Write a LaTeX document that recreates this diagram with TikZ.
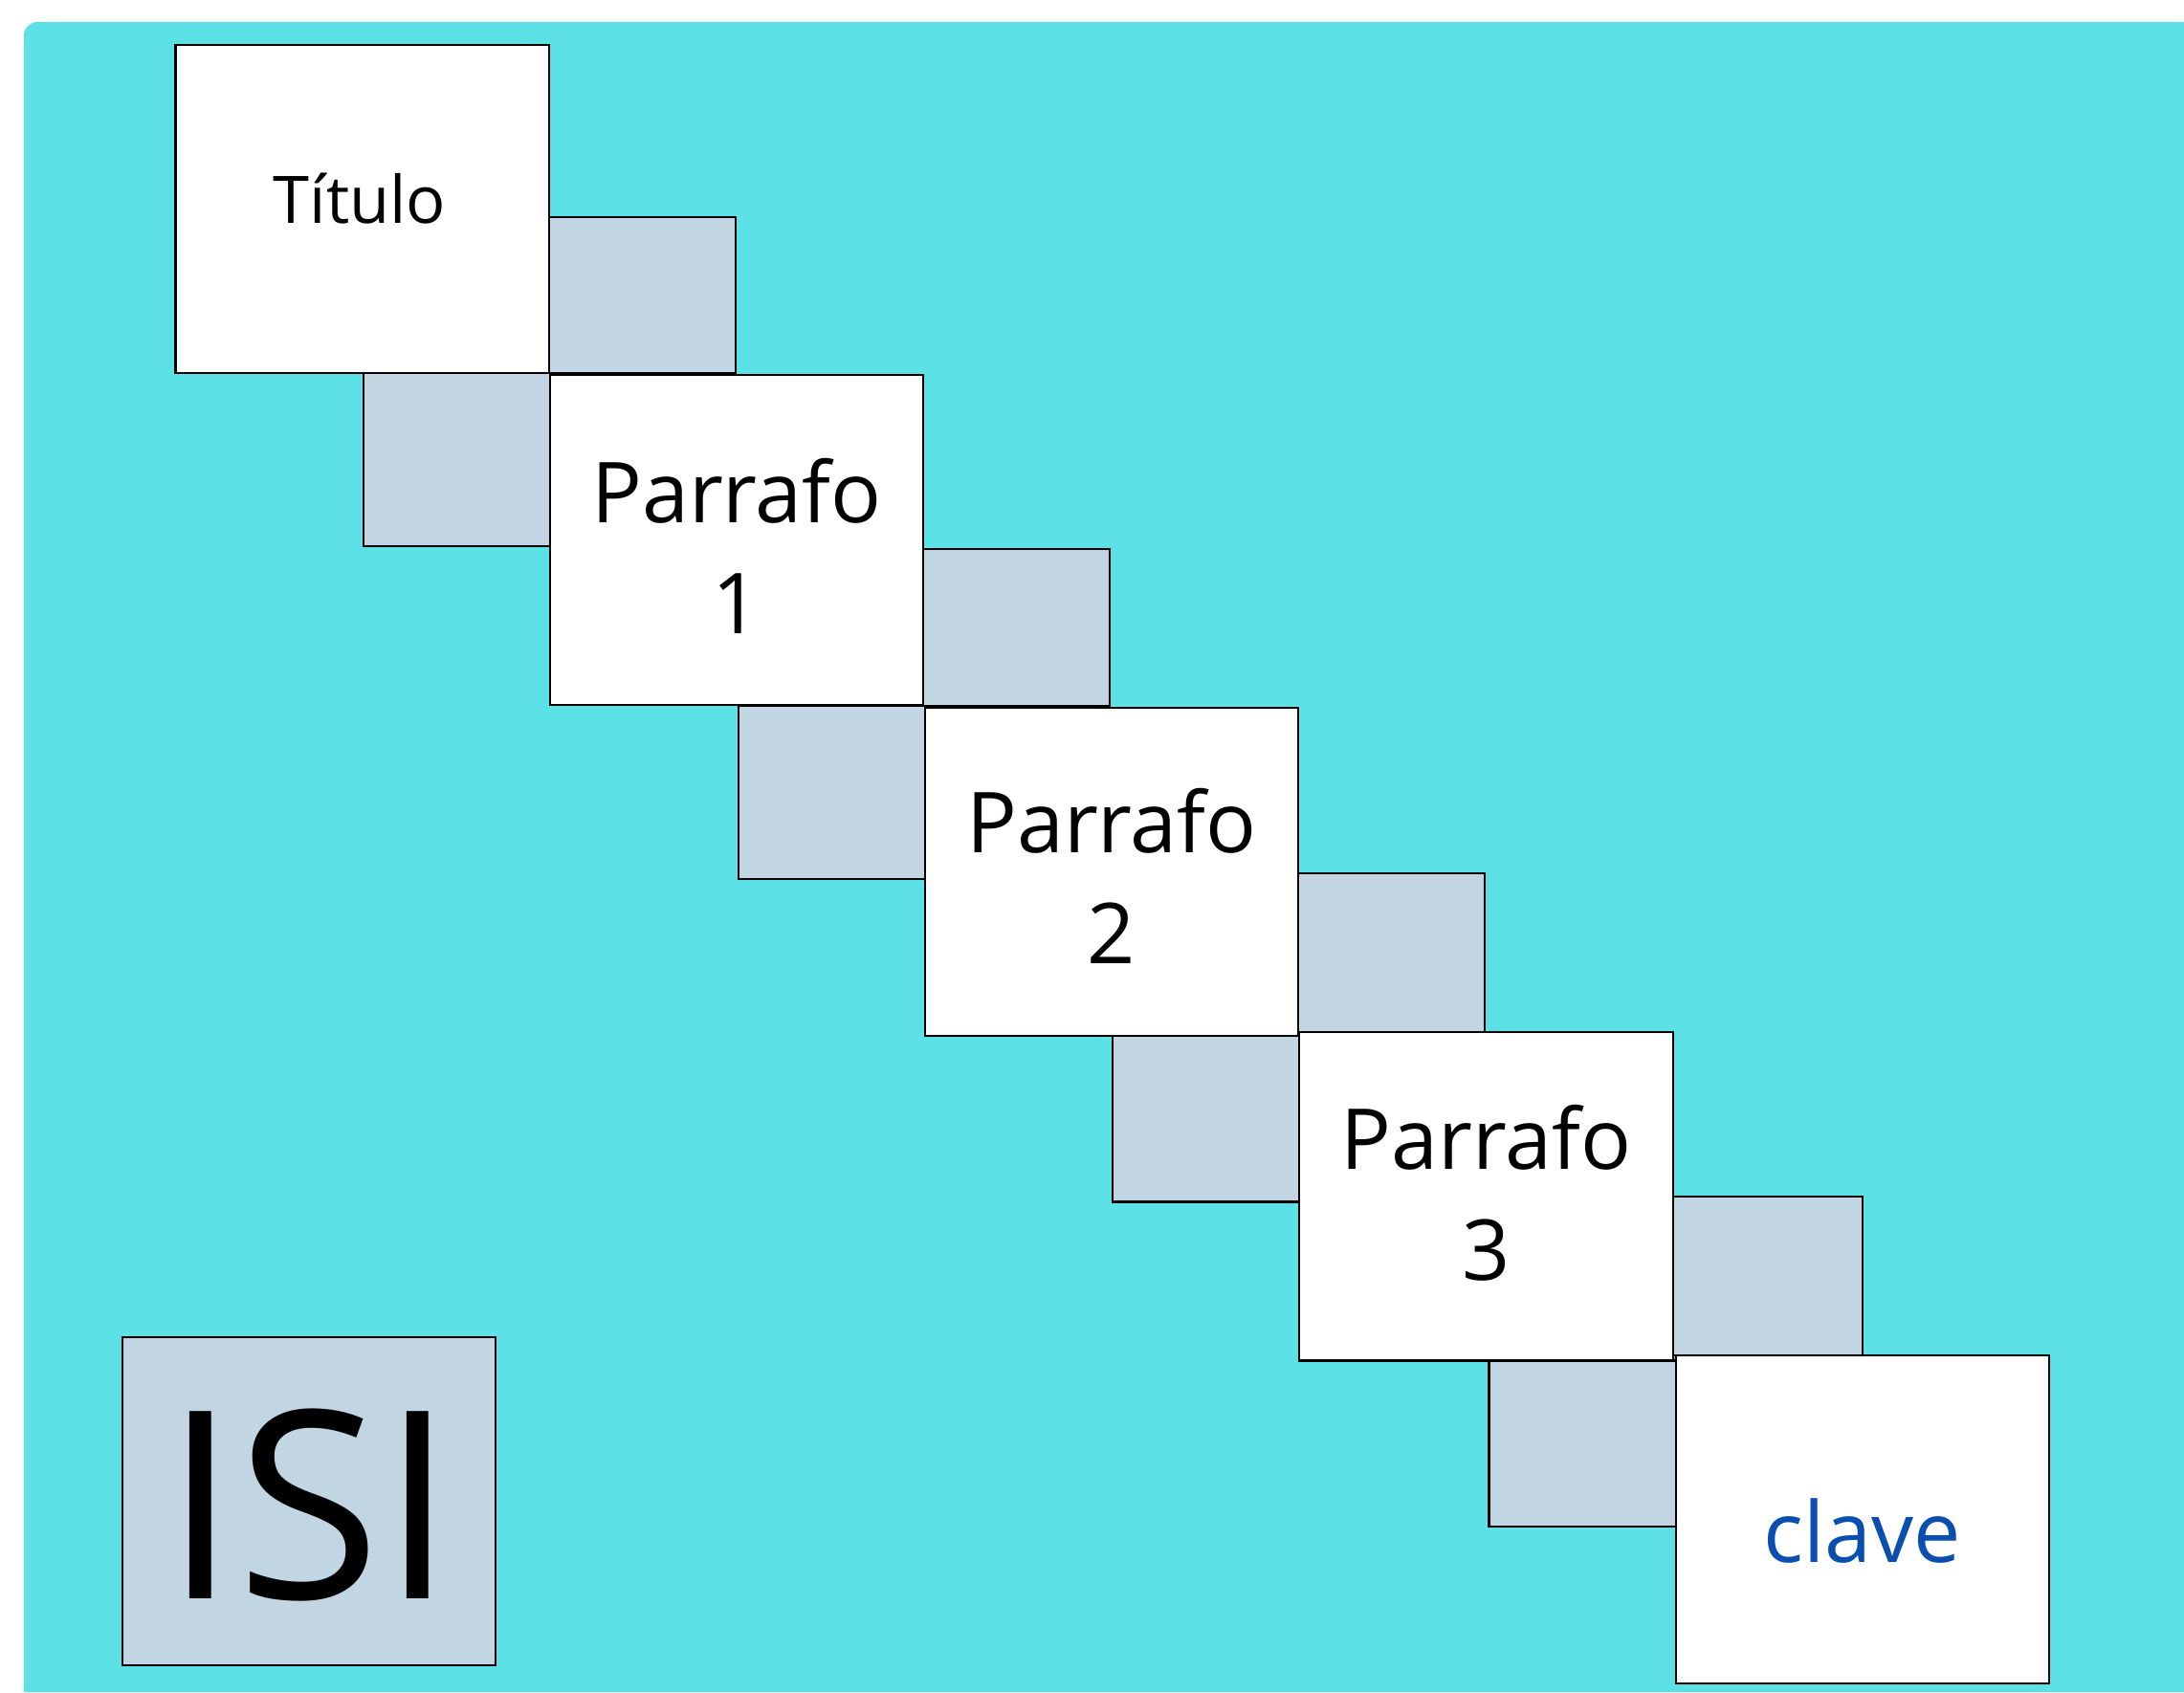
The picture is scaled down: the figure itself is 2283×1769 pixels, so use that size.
\documentclass[tikz,border=0pt]{standalone}
\usepackage{fontspec}
\setmainfont{Open Sans}
\definecolor{bgcyan}{HTML}{5CE1E6}
\definecolor{graybox}{HTML}{C2D5E2}
\definecolor{keyblue}{HTML}{0A4FB0}
\begin{document}
\begin{tikzpicture}[x=0.01cm,y=-0.01cm,
  whitebox/.style={draw=black,line width=0.6pt,fill=white},
  shadebox/.style={draw=black,line width=0.6pt,fill=graybox},
  lbl/.style={inner sep=0pt,anchor=base},
  plbl/.style={inner sep=0pt,align=center,font=\fontsize{25}{33}\selectfont}]
\useasboundingbox (0,0) rectangle (2283,1769);
% background panel
\fill[bgcyan] (2283,1769) -- (25,1769) [rounded corners=0.14cm] -- (25,23) [sharp corners] -- (2283,23) -- cycle;
% gray squares (behind)
\draw[shadebox] (573.7,227.1) rectangle (768.8,390.2);
\draw[shadebox] (380,390.2) rectangle (575,570.8);
\draw[shadebox] (965.3,573.7) rectangle (1160.4,738);
\draw[shadebox] (771.7,738) rectangle (966.8,918.7);
\draw[shadebox] (1357,913) rectangle (1552,1079);
\draw[shadebox] (1163.3,1083.3) rectangle (1358.4,1256.5);
\draw[shadebox] (1748.7,1250.7) rectangle (1946.7,1416.7);
\draw[shadebox] (1556.5,1422.5) rectangle (1751.6,1595.8);
% white cards
\draw[whitebox] (183.5,46.6) rectangle (573.7,390.2);
\draw[whitebox] (575,391.7) rectangle (965.3,736.7);
\draw[whitebox] (966.8,739.6) rectangle (1357,1083.3);
\draw[whitebox] (1358.4,1079) rectangle (1748.7,1422.5);
\draw[whitebox] (1751.6,1416.7) rectangle (2141.8,1760.3);
% ISI box
\draw[shadebox] (128.1,1397.8) rectangle (518.3,1741.4);
% labels
\node[lbl,font=\fontsize{19.5}{24}\selectfont] (titulo) at (376,233) {Título};
\node[plbl] (p1) at (770,571) {Parrafo\\1};
\node[plbl] (p2) at (1162,916) {Parrafo\\2};
\node[plbl] (p3) at (1553.5,1247) {Parrafo\\3};
\node[lbl,font=\fontsize{25}{30}\selectfont,text=keyblue] (clave) at (1946.7,1633.6) {clave};
\node[lbl,font=\fontsize{78}{90}\selectfont] (isi) at (323.2,1671.5) {ISI};
\end{tikzpicture}
\end{document}
